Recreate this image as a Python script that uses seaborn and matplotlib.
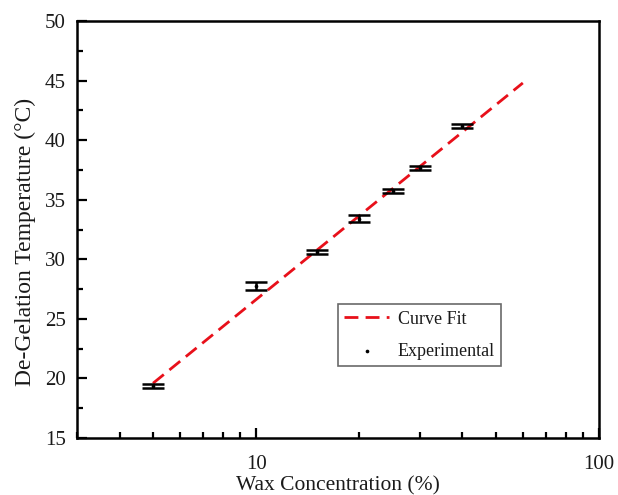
import numpy as np
import pandas as pd
import matplotlib
matplotlib.use("Agg")
import matplotlib.pyplot as plt
from matplotlib.ticker import LogLocator, FixedLocator, NullFormatter, MultipleLocator, FuncFormatter
import seaborn as sns

# Measured de-gelation temperatures
wax_conc = [5, 10, 15, 20, 25, 30, 40]
temp_c = [19.35, 27.75, 30.6, 33.4, 35.7, 37.65, 41.2]
temp_err = [0.18, 0.35, 0.16, 0.3, 0.17, 0.15, 0.18]

# Logarithmic curve fit (straight line on a log x axis), end points
fit_conc = [5, 60]
fit_temp = [19.6, 44.8]

sns.set_style("ticks")
plt.rcParams["font.family"] = ["Liberation Serif", "DejaVu Serif"]

fig, ax = plt.subplots(figsize=(6.18, 4.95), dpi=100)
fig.subplots_adjust(left=0.1246, right=0.969, top=0.9576, bottom=0.115)

fit_df = pd.DataFrame({"x": fit_conc, "y": fit_temp})
exp_df = pd.DataFrame({"x": wax_conc, "y": temp_c})

sns.lineplot(data=fit_df, x="x", y="y", ax=ax, color="#e8101a", lw=2.0,
             dashes=False, label="Curve Fit", zorder=2)
ax.lines[-1].set_dashes((5.0, 2.6))

ax.errorbar(wax_conc, temp_c, yerr=temp_err, fmt="none", ecolor="black",
            elinewidth=1.8, capsize=8, capthick=1.8, zorder=3)
sns.scatterplot(data=exp_df, x="x", y="y", ax=ax, color="black", s=7,
                edgecolor="black", linewidth=0, label="Experimental", zorder=4)

ax.set_xscale("log")
ax.set_xlim(3, 100)
ax.set_ylim(15, 50)

ax.xaxis.set_major_locator(FixedLocator([10, 100]))
ax.xaxis.set_major_formatter(FuncFormatter(lambda v, p: f"{v:g}"))
ax.xaxis.set_minor_locator(LogLocator(base=10, subs=np.arange(2, 10)))
ax.xaxis.set_minor_formatter(NullFormatter())
ax.yaxis.set_major_locator(MultipleLocator(5))
ax.yaxis.set_minor_locator(MultipleLocator(2.5))

ax.tick_params(which="major", direction="in", length=7, width=1.6,
               labelsize=15, color="black", labelcolor="#1a1a1a")
ax.tick_params(which="minor", direction="in", length=4, width=1.6, color="black")
ax.tick_params(axis="x", which="major", pad=12)
ax.tick_params(axis="y", which="major", pad=8)
ax.tick_params(axis="x", which="both", top=False)
ax.tick_params(axis="y", which="both", right=False)

for sp in ax.spines.values():
    sp.set_visible(True)
    sp.set_linewidth(1.8)
    sp.set_color("black")

ax.set_xlabel("Wax Concentration (%)", fontsize=15.5, color="#1a1a1a")
ax.set_ylabel("De-Gelation Temperature (°C)", fontsize=17, color="#1a1a1a")
ax.xaxis.set_label_coords(0.5, -0.092)
ax.yaxis.set_label_coords(-0.078, 0.47)

leg = ax.legend(loc="upper left", bbox_to_anchor=(0.5, 0.321), borderaxespad=0,
                frameon=True, fancybox=False, edgecolor="#444444", fontsize=13,
                handlelength=2.5, handletextpad=0.45, borderpad=0.35,
                labelspacing=0.85)
leg.get_frame().set_linewidth(1.2)
for t in leg.get_texts():
    t.set_color("#1a1a1a")

fig.savefig("out.png", dpi=100, facecolor="white")
